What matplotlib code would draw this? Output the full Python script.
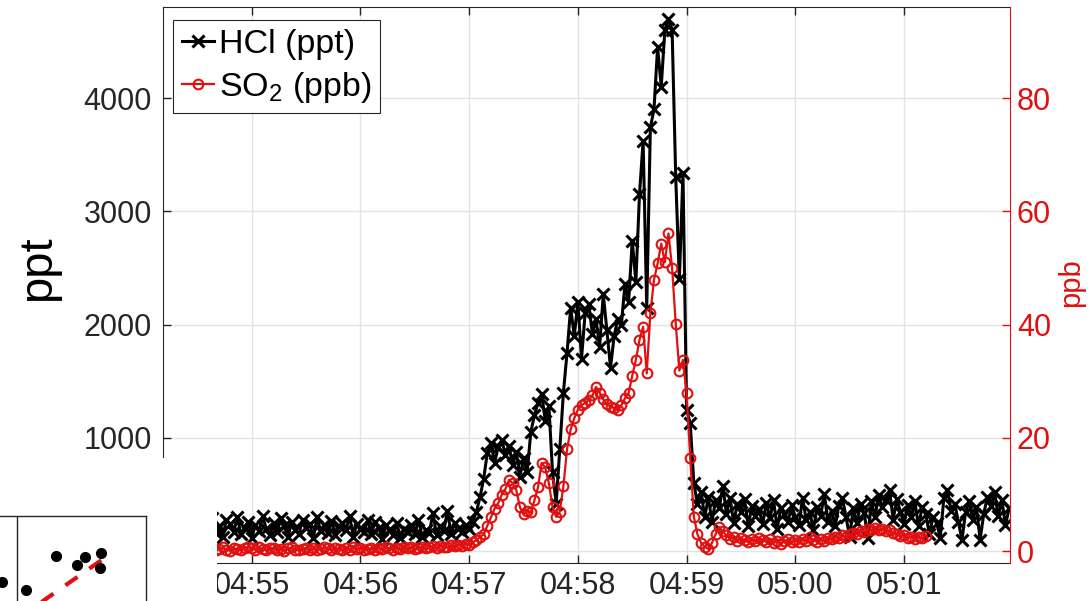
import numpy as np
import matplotlib
matplotlib.use("Agg")
import matplotlib.pyplot as plt
from matplotlib.patches import Rectangle

plt.rcParams['font.family'] = ['Liberation Sans', 'DejaVu Sans']

# ---------------- data (seconds after 04:54:00) ----------------
# HCl (ppt), sampled every 2 s
hcl_start_a = 12
hcl_a = [210, 150, 260, 120, 300, 180, 230, 140, 270, 200, 110, 250, 190, 290, 160, 220, 130, 280, 240, 170,
         300, 150, 210, 260, 120, 230, 180, 310, 200, 140, 250, 170, 290, 220, 130, 260, 190, 150, 280, 210,
         240, 120, 300, 180, 230, 160, 270, 140, 220, 250, 190, 310, 130, 240, 200, 170, 280, 150, 260, 210,
         110, 230, 190, 140, 250, 120, 200, 170, 230, 150, 280, 130, 190, 160, 340, 140, 220, 180, 360, 150,
         250, 200, 170, 230]
hcl_start_b = 180
hcl_b = [200, 260, 350, 480, 640, 870, 960, 780, 920, 980, 850, 930, 760, 880, 660, 820, 700, 1050, 1200,
         1310, 1390, 1150, 1280, 700, 420, 900, 1400, 1750, 2150, 1900, 2200, 1700, 2100, 2180, 1920, 2050,
         1800, 2270, 1950, 1620, 1900, 2050, 2000, 2360, 2200, 2740, 2380, 3150, 3620, 2150, 3740, 3900,
         4450, 4100, 4600, 4700, 4600, 3300, 2400, 3340, 1250]
hcl_start_c = 302
hcl_c = [1130, 600, 420, 520, 300, 480, 260, 450, 380, 580, 330, 470, 250, 420, 350, 460, 220, 400, 310, 370,
         240, 430, 290, 450, 200, 380, 330, 260, 410, 300, 230, 470, 280, 350, 190, 390, 310, 510, 260, 360,
         220, 400, 470, 300, 130, 380, 250, 420, 340, 120, 440, 300, 500, 390, 450, 540, 280, 460, 350, 240,
         410, 300, 440, 220, 390, 330, 150, 300, 250, 120, 470, 540, 360, 420, 260, 100, 350, 440, 280, 390,
         100, 330, 480, 400, 520, 310, 450, 230, 380]

# SO2 (ppb), sampled every 2 s
so2_start_a = 12
so2_a = [0.4, 0.2, 0.6, 0.3, 0.1, 0.5, 0.3, 0.7, 0.2, 0.4, 0.1, 0.5, 0.3, 0.6, 0.2, 0.4, 0.7, 0.3, 0.1, 0.5,
         0.4, 0.2, 0.6, 0.8, 0.5, 0.3, 0.7, 0.4, 0.2, 0.5, 0.6, 0.3, 0.4, 0.1, 0.5, 0.7, 0.3, 0.2, 0.4, 0.6,
         0.3, 0.5, 0.2, 0.4, 0.7, 0.5, 0.3, 0.6, 0.4, 0.2, 0.5, 0.3, 0.7, 0.4, 0.6, 0.2, 0.4, 0.5, 0.3, 0.6,
         0.4, 0.7, 0.5, 0.3, 0.6, 0.4, 0.8, 0.5, 0.7, 0.4, 0.6, 0.8, 0.5, 0.7, 0.9, 0.6, 1.0, 0.8, 0.7, 1.1,
         0.9, 1.2, 1.0, 1.3]
so2_start_b = 180
so2_b = [1.2, 1.6, 2.0, 2.5, 3.0, 4.5, 6.0, 7.5, 8.5, 10.0, 11.0, 12.6, 12.0, 10.8, 7.8, 6.5, 7.2, 6.9, 9.0,
         11.3, 15.6, 14.8, 12.0, 7.8, 6.1, 7.0, 11.5, 18.0, 21.5, 23.5, 25.0, 25.8, 26.2, 26.7, 27.5, 29.0,
         28.0, 26.8, 26.0, 25.5, 25.3, 24.9, 25.8, 27.0, 27.9, 31.0, 33.8, 37.3, 39.6, 31.4, 42.0, 47.9,
         50.8, 54.3, 51.0, 56.1, 50.0, 40.2, 31.9, 33.8, 27.9, 16.5, 6.1, 3.0, 1.5, 0.8, 0.4, 1.5, 3.0,
         4.3, 3.5]
so2_start_c = 322
so2_c = [2.8, 2.2, 2.5, 1.9, 2.3, 2.0, 1.6, 2.1, 1.8, 2.4, 2.0, 1.7, 2.2, 1.5, 1.9, 1.3, 1.8, 2.1, 1.6, 2.0,
         1.7, 2.2, 1.8, 2.5, 2.0, 1.6, 2.1, 1.9, 2.4, 2.2, 2.6, 2.3, 2.8, 2.5, 3.0, 3.3, 3.1, 3.6, 3.4, 3.9,
         3.7, 4.1, 3.8, 4.0, 3.5, 3.7, 3.2, 3.0, 2.7, 2.9, 2.4, 2.6, 2.2, 2.5, 2.3, 2.7]

xtick_pos = [60, 120, 180, 240, 300, 360, 420]
xtick_labels = ['04:55', '04:56', '04:57', '04:58', '04:59', '05:00', '05:01']
left_ticks = [0, 1000, 2000, 3000, 4000]
right_ticks = [0, 20, 40, 60, 80]

# inset panel (partially visible scatter)
inset_x = [0.02, 0.26, 0.56, 0.77, 0.85, 1.01, 1.00]
inset_y = [0.19, 0.11, 0.45, 0.36, 0.44, 0.48, 0.33]
fit_x = [0.30, 1.06]
fit_y = [-0.09, 0.44]


def seg_times(start, vals):
    return start + 2 * np.arange(len(vals))


t_hcl = np.concatenate([seg_times(hcl_start_a, hcl_a), seg_times(hcl_start_b, hcl_b), seg_times(hcl_start_c, hcl_c)])
v_hcl = np.concatenate([hcl_a, hcl_b, hcl_c])
t_so2 = np.concatenate([seg_times(so2_start_a, so2_a), seg_times(so2_start_b, so2_b), seg_times(so2_start_c, so2_c)])
v_so2 = np.concatenate([so2_a, so2_b, so2_c])

# ---------------- figure ----------------
W, H = 1090, 601
fig = plt.figure(figsize=(W / 100, H / 100), dpi=100)
dark = '#262626'
red = '#e01010'

ax = fig.add_axes([163 / W, 1 - 563 / H, 847 / W, 556 / H])
ax2 = ax.twinx()

l1, = ax.plot(t_hcl, v_hcl, color='black', lw=2.2, marker='x', ms=9, mew=2.2, zorder=3)
l2, = ax2.plot(t_so2, v_so2, color=red, lw=1.6, marker='o', ms=7, mfc='none', mew=1.5, zorder=3)

ax.set_xlim(11, 478.5)
ax.set_ylim(-103, 4803)
ax2.set_ylim(-2.06, 96.06)

ax.set_xticks(xtick_pos)
ax.set_xticklabels(xtick_labels)
ax.set_yticks(left_ticks)
ax.set_yticklabels([str(v) for v in left_ticks])
ax2.set_yticks(right_ticks)
ax2.set_yticklabels([str(v) for v in right_ticks])

ax.grid(True, color='#e3e3e3', lw=1)
ax.set_axisbelow(True)

ax.tick_params(axis='x', direction='in', top=True, length=6, width=1, color=dark,
               labelsize=22, labelcolor=dark, pad=6)
ax.tick_params(axis='y', direction='in', length=6, width=1, color=dark,
               labelsize=22, labelcolor=dark, pad=8)
ax2.tick_params(axis='y', direction='in', length=6, width=1, color=red,
                labelsize=22, labelcolor=red, pad=5)

for s in ['left', 'top', 'bottom']:
    ax.spines[s].set_color(dark)
    ax2.spines[s].set_visible(False)
ax.spines['right'].set_visible(False)
ax2.spines['right'].set_color(red)

leg = ax2.legend([l1, l2], ['HCl (ppt)', r'SO$_\mathregular{2}$ (ppb)'], loc='upper left',
                 bbox_to_anchor=(0.0118, 0.9766), borderaxespad=0, fontsize=24.5,
                 handlelength=0.95, handletextpad=0.15, labelspacing=0.3, borderpad=0.25,
                 frameon=True, fancybox=False, edgecolor=dark, framealpha=1)
leg.get_frame().set_linewidth(0.8)

fig.text(38 / W, 1 - 268 / H, 'ppt', rotation=90, ha='center', va='center', fontsize=34, color='black')
fig.text(1071 / W, 1 - 283 / H, 'ppb', rotation=90, ha='center', va='center', fontsize=21, color=red)

# white patch covering the lower-left corner (overlapping panel)
fig.add_artist(Rectangle((0, 0), 217 / W, (H - 458) / H, transform=fig.transFigure,
                         facecolor='white', edgecolor='none', zorder=5))

# partial inset panel in the lower-left corner
axi = fig.add_axes([0, -0.05, 146 / W, (H - 516) / H + 0.05])
axi.set_zorder(10)
axi.set_xlim(0, 1.46)
axi.set_ylim(-0.30, 0.85)
axi.plot(inset_x, inset_y, 'o', color='black', ms=7, clip_on=False, zorder=3)
axi.plot(fit_x, fit_y, '--', color=red, lw=3, dashes=(3.5, 3.5), zorder=2)
axi.axvline(0.17, color=dark, lw=1)
axi.set_xticks([])
axi.set_yticks([])
for s in ['left', 'bottom']:
    axi.spines[s].set_visible(False)
for s in ['top', 'right']:
    axi.spines[s].set_color(dark)
    axi.spines[s].set_linewidth(1)

fig.savefig('out.png', dpi=100)
